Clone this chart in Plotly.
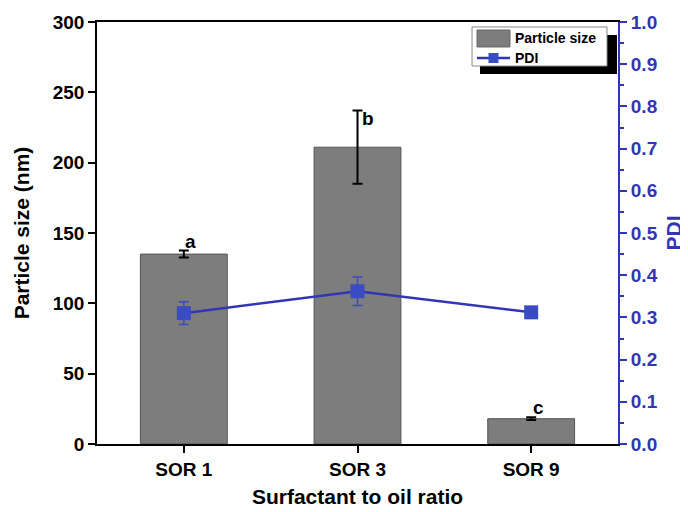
import plotly.graph_objects as go

categories = ["SOR 1", "SOR 3", "SOR 9"]
particle_size = [135, 211, 18]
particle_err = [2.5, 26, 1]
pdi = [0.31, 0.362, 0.312]
pdi_err = [0.027, 0.034, 0.008]
letters = ["a", "b", "c"]
legend_labels = ["Particle size", "PDI"]

FONT = "Liberation Sans, Arial, sans-serif"
BLUE = "#3236b4"
MARK = "#3a4cc4"
BAR = "#7d7d7d"

fig = go.Figure()
fig.add_trace(go.Bar(
    x=categories, y=particle_size, name=legend_labels[0],
    marker=dict(color=BAR, line=dict(color="#555555", width=1)),
    width=0.5,
    error_y=dict(type="data", array=particle_err, color="black", thickness=2, width=5),
    yaxis="y",
))
fig.add_trace(go.Scatter(
    x=categories, y=pdi, name=legend_labels[1], mode="lines+markers",
    line=dict(color=BLUE, width=2.5),
    marker=dict(symbol="square", size=14, color=MARK),
    error_y=dict(type="data", array=pdi_err, color=MARK, thickness=1.5, width=5),
    yaxis="y2",
))

for c, v, e, t in zip(categories, particle_size, particle_err, letters):
    fig.add_annotation(x=c, y=v + e, text=t, showarrow=False, yanchor="bottom",
                       xshift=10 if e > 5 else 7, yshift=-20 if e > 5 else -3,
                       font=dict(family=FONT, size=19, color="black", weight="bold"))

# custom legend (box with drop shadow)
def prect(x0, x1, y0, y1, **kw):
    fig.add_shape(type="rect", xref="paper", yref="paper", x0=x0, x1=x1, y0=y0, y1=y1,
                  layer="above", **kw)

prect(0.7351, 0.9981, 0.8768, 0.9692, fillcolor="black", line=dict(width=0))
prect(0.7198, 0.9789, 0.8957, 0.9882, fillcolor="white", line=dict(color="#888888", width=1))
prect(0.7294, 0.7927, 0.9408, 0.9810, fillcolor=BAR, line=dict(color="#666666", width=1))
fig.add_shape(type="line", xref="paper", yref="paper", x0=0.7294, x1=0.7927,
              y0=0.9147, y1=0.9147, line=dict(color=BLUE, width=2.5), layer="above")
prect(0.7514, 0.7706, 0.9029, 0.9265, fillcolor=MARK, line=dict(width=0))
for lbl, yy in zip(legend_labels, [0.9621, 0.9147]):
    fig.add_annotation(xref="paper", yref="paper", x=0.7985, y=yy, text=lbl,
                       showarrow=False, xanchor="left", yanchor="middle",
                       font=dict(family=FONT, size=14, color="black", weight="bold"))

fig.update_layout(
    width=688, height=512,
    margin=dict(l=89, r=78, t=14, b=76, autoexpand=False),
    plot_bgcolor="white", paper_bgcolor="white",
    font=dict(family=FONT, size=19, color="black", weight="bold"),
    xaxis=dict(
        range=[-0.5, 2.5], showline=True, linecolor="black", linewidth=1.5,
        mirror=True, ticks="outside", ticklen=7, tickcolor="black", tickwidth=1.5,
        tickfont=dict(size=19, weight="bold"), automargin=False,
        title=dict(text="Surfactant to oil ratio", font=dict(size=21, weight="bold"), standoff=11),
        showgrid=False,
    ),
    yaxis=dict(
        range=[0, 300], dtick=50, showline=True, linecolor="black", linewidth=1.5,
        ticks="outside", ticklen=7, tickcolor="black", tickwidth=1.5, showgrid=False, zeroline=False,
        tickfont=dict(size=19, weight="bold"), automargin=False,
        title=dict(text="Particle size (nm)", font=dict(size=21, weight="bold"), standoff=17),
    ),
    yaxis2=dict(
        range=[0, 1.0], dtick=0.1, tickformat=".1f", overlaying="y", side="right",
        showline=True, linecolor=BLUE, linewidth=2, ticks="outside", ticklen=7,
        tickcolor=BLUE, tickwidth=1.5, showgrid=False, zeroline=False, automargin=False,
        minor=dict(ticks="outside", ticklen=4, tickcolor=BLUE, dtick=0.05),
        tickfont=dict(size=19, color=BLUE, weight="bold"),
        title=dict(text="PDI", font=dict(size=21, color=BLUE, weight="bold"), standoff=10),
    ),
    showlegend=False,
)

fig.write_html("out.html")
